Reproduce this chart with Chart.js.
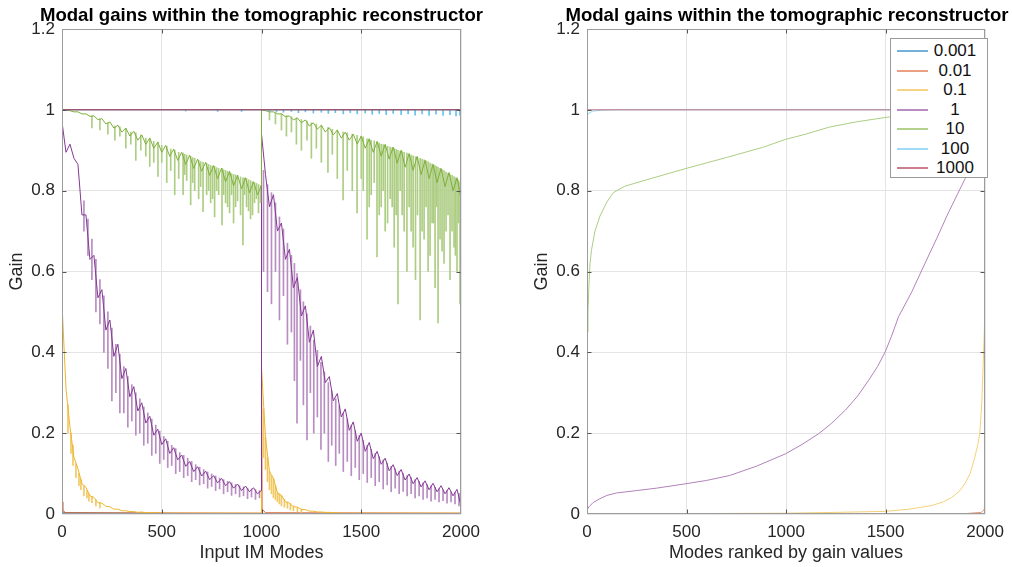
<!DOCTYPE html>
<html>
<head>
<meta charset="utf-8">
<script src="https://cdn.jsdelivr.net/npm/chart.js@4"></script>
<style>
  html, body { margin: 0; padding: 0; background: #fff; }
  #wrap { position: relative; width: 1012px; height: 567px; overflow: hidden;
          font-family: "Liberation Sans", Arial, sans-serif; }
  canvas { position: absolute; top: 0; }
  .title { position: absolute; top: 5px; line-height: 20px; font-size: 18.6px; font-weight: bold;
           color: #000; text-align: center; white-space: nowrap; }
  #legend { position: absolute; left: 890px; top: 38px; width: 96px; height: 138px;
            border: 1px solid #9a9a9a; background: #fff; }
  .row { position: absolute; left: 0; width: 96px; height: 20px; }
  .row .ln { position: absolute; left: 6px; top: 9px; width: 31px; height: 2px; }
  .row .tx { position: absolute; left: 40px; width: 48px; top: 0; line-height: 20px;
             font-size: 17px; color: #111; text-align: center; }
</style>
</head>
<body>
<div id="wrap">
  <canvas id="leftChart" width="506" height="567" style="left:0"></canvas>
  <canvas id="rightChart" width="506" height="567" style="left:506px"></canvas>
  <div class="title" style="left:0;width:523px">Modal gains within the tomographic reconstructor</div>
  <div class="title" style="left:562px;width:450px">Modal gains within the tomographic reconstructor</div>
  <div id="legend"></div>
</div>
<script>
// gain values per regularisation weight
const seriesNames = ["0.001", "0.01", "0.1", "1", "10", "100", "1000"];
const seriesColors = ["#0072BD", "#D95319", "#EDB120", "#7E2F8E", "#77AC30", "#4DBEEE", "#A2142F"];

// left panel : input IM modes (two blocks of 1000 modes)
const leftModes = [
  0, 20, 40, 60, 80, 100, 120, 140, 160, 180,
  200, 220, 240, 260, 280, 300, 320, 340, 360, 380,
  400, 420, 440, 460, 480, 500, 520, 540, 560, 580,
  600, 620, 640, 660, 680, 700, 720, 740, 760, 780,
  800, 820, 840, 860, 880, 900, 920, 940, 960, 980,
  999,
  1000, 1020, 1040, 1060, 1080, 1100, 1120, 1140, 1160, 1180,
  1200, 1220, 1240, 1260, 1280, 1300, 1320, 1340, 1360, 1380,
  1400, 1420, 1440, 1460, 1480, 1500, 1520, 1540, 1560, 1580,
  1600, 1620, 1640, 1660, 1680, 1700, 1720, 1740, 1760, 1780,
  1800, 1820, 1840, 1860, 1880, 1900, 1920, 1940, 1960, 1980,
  2000
];
// main band of each curve
const leftGain10 = [
  1.000, 0.999, 0.998, 0.995, 0.995, 0.990, 0.990, 0.984, 0.985, 0.976,
  0.978, 0.965, 0.970, 0.955, 0.962, 0.945, 0.955, 0.935, 0.947, 0.925,
  0.938, 0.915, 0.930, 0.905, 0.920, 0.895, 0.912, 0.885, 0.903, 0.875,
  0.895, 0.865, 0.888, 0.855, 0.878, 0.848, 0.870, 0.838, 0.862, 0.830,
  0.856, 0.822, 0.848, 0.812, 0.838, 0.805, 0.832, 0.795, 0.822, 0.790,
  0.812,
  1.000, 0.998, 0.995, 0.995, 0.990, 0.990, 0.983, 0.985, 0.975, 0.980,
  0.968, 0.975, 0.960, 0.968, 0.952, 0.962, 0.945, 0.956, 0.938, 0.950,
  0.930, 0.945, 0.925, 0.940, 0.915, 0.935, 0.905, 0.928, 0.895, 0.922,
  0.885, 0.915, 0.878, 0.908, 0.868, 0.900, 0.858, 0.892, 0.850, 0.885,
  0.840, 0.875, 0.830, 0.865, 0.820, 0.855, 0.810, 0.845, 0.800, 0.832,
  0.780
];
const leftGain1 = [
  0.970, 0.895, 0.915, 0.880, 0.865, 0.740, 0.740, 0.630, 0.640, 0.535,
  0.555, 0.455, 0.480, 0.390, 0.420, 0.335, 0.360, 0.290, 0.315, 0.255,
  0.275, 0.225, 0.242, 0.195, 0.210, 0.172, 0.186, 0.150, 0.164, 0.134,
  0.146, 0.118, 0.130, 0.105, 0.117, 0.094, 0.106, 0.085, 0.095, 0.077,
  0.088, 0.070, 0.080, 0.064, 0.074, 0.058, 0.069, 0.055, 0.065, 0.050,
  0.058,
  0.940, 0.840, 0.760, 0.790, 0.700, 0.720, 0.630, 0.655, 0.560, 0.585,
  0.490, 0.515, 0.425, 0.455, 0.365, 0.390, 0.325, 0.340, 0.280, 0.298,
  0.240, 0.260, 0.207, 0.228, 0.180, 0.200, 0.155, 0.177, 0.137, 0.155,
  0.123, 0.138, 0.107, 0.122, 0.095, 0.110, 0.084, 0.099, 0.075, 0.090,
  0.067, 0.082, 0.060, 0.076, 0.055, 0.070, 0.050, 0.065, 0.045, 0.061,
  0.020
];
const leftGain01 = [
  0.520, 0.310, 0.215, 0.140, 0.112, 0.075, 0.066, 0.045, 0.041, 0.028,
  0.027, 0.019, 0.018, 0.012, 0.012, 0.008, 0.008, 0.006, 0.006, 0.004,
  0.005, 0.003, 0.004, 0.003, 0.003, 0.002, 0.002, 0.002, 0.002, 0.002,
  0.002, 0.002, 0.002, 0.002, 0.002, 0.002, 0.002, 0.002, 0.002, 0.002,
  0.002, 0.002, 0.002, 0.002, 0.002, 0.002, 0.002, 0.002, 0.002, 0.002,
  0.002,
  0.360, 0.190, 0.105, 0.088, 0.052, 0.046, 0.030, 0.027, 0.018, 0.017,
  0.011, 0.011, 0.007, 0.007, 0.005, 0.005, 0.004, 0.004, 0.003, 0.003,
  0.002, 0.002, 0.002, 0.002, 0.002, 0.002, 0.002, 0.002, 0.002, 0.002,
  0.002, 0.002, 0.002, 0.002, 0.002, 0.002, 0.002, 0.002, 0.002, 0.002,
  0.002, 0.002, 0.002, 0.002, 0.002, 0.002, 0.002, 0.002, 0.002, 0.002,
  0.002
];

// downward spikes of the weight 10 curve : mode, bottom, top
const spikeModes10 = [
  150, 190, 230, 265, 290, 320, 345, 370, 395, 420,
  440, 460, 481, 500, 525, 545, 565, 585, 607, 625,
  645, 665, 685, 707, 725, 745, 765, 785, 802, 820,
  840, 860, 880, 907, 925, 945, 965, 985,
  615, 655, 695, 735, 755, 775, 810, 830, 850, 870,
  895, 915, 935, 955, 975, 995,
  1040, 1070, 1100, 1125, 1150, 1175, 1200, 1228, 1250, 1275,
  1300, 1333, 1355, 1380, 1409, 1430, 1455, 1479, 1500, 1529,
  1550, 1579, 1600, 1620, 1645, 1665, 1684, 1705, 1729, 1750,
  1772, 1795, 1815, 1835, 1855, 1870, 1885, 1905, 1925, 1945,
  1965, 1980, 1995,
  1510, 1540, 1565, 1590, 1610, 1632, 1655, 1675, 1695, 1715,
  1740, 1760, 1782, 1805, 1825, 1845, 1862, 1878, 1895, 1915,
  1935, 1955, 1972, 1988
];
const spikeLow10 = [
  0.955, 0.950, 0.940, 0.925, 0.935, 0.905, 0.915, 0.875, 0.900, 0.885,
  0.860, 0.870, 0.835, 0.870, 0.820, 0.850, 0.790, 0.830, 0.790, 0.825,
  0.765, 0.800, 0.780, 0.748, 0.790, 0.770, 0.735, 0.790, 0.715, 0.770,
  0.745, 0.720, 0.775, 0.666, 0.760, 0.730, 0.770, 0.745,
  0.840, 0.820, 0.810, 0.800, 0.780, 0.800, 0.790, 0.760, 0.790, 0.760,
  0.740, 0.790, 0.750, 0.740, 0.780, 0.770,
  0.975, 0.965, 0.950, 0.935, 0.945, 0.915, 0.900, 0.925, 0.880, 0.905,
  0.870, 0.845, 0.890, 0.830, 0.777, 0.850, 0.800, 0.745, 0.830, 0.680,
  0.790, 0.636, 0.760, 0.700, 0.780, 0.660, 0.520, 0.740, 0.600, 0.700,
  0.580, 0.480, 0.680, 0.600, 0.720, 0.560, 0.473, 0.650, 0.700, 0.580,
  0.660, 0.600, 0.520,
  0.800, 0.760, 0.820, 0.740, 0.800, 0.720, 0.760, 0.740, 0.800, 0.700,
  0.760, 0.660, 0.740, 0.700, 0.760, 0.640, 0.720, 0.760, 0.680, 0.620,
  0.740, 0.700, 0.640, 0.720
];
const spikeTop10 = [
  0.985, 0.977, 0.968, 0.960, 0.958, 0.953, 0.945, 0.943, 0.938, 0.930,
  0.930, 0.922, 0.920, 0.912, 0.910, 0.903, 0.900, 0.895, 0.893, 0.888,
  0.885, 0.880, 0.875, 0.870, 0.868, 0.862, 0.860, 0.855, 0.855, 0.850,
  0.845, 0.840, 0.838, 0.832, 0.830, 0.825, 0.820, 0.815,
  0.890, 0.882, 0.872, 0.865, 0.861, 0.857, 0.852, 0.848, 0.842, 0.839,
  0.834, 0.831, 0.827, 0.822, 0.818, 0.813,
  0.995, 0.992, 0.990, 0.986, 0.983, 0.980, 0.976, 0.972, 0.968, 0.965,
  0.962, 0.956, 0.952, 0.950, 0.945, 0.943, 0.940, 0.937, 0.935, 0.928,
  0.925, 0.920, 0.915, 0.912, 0.908, 0.904, 0.900, 0.897, 0.893, 0.888,
  0.884, 0.880, 0.876, 0.872, 0.866, 0.862, 0.858, 0.852, 0.846, 0.840,
  0.835, 0.830, 0.820,
  0.933, 0.928, 0.923, 0.918, 0.914, 0.910, 0.906, 0.902, 0.898, 0.895,
  0.890, 0.886, 0.882, 0.878, 0.874, 0.868, 0.864, 0.860, 0.855, 0.850,
  0.843, 0.838, 0.832, 0.826
];
// downward spikes of the weight 1 curve
const spikeModes1 = [
  110, 130, 150, 170, 190, 210, 230, 250, 270, 290,
  310, 330, 350, 370, 390, 410, 430, 450, 470, 490,
  510, 530, 550, 570, 590, 610, 630, 650, 670, 690,
  710, 730, 750, 770, 790, 810, 830, 850, 870, 890,
  910, 930, 950, 970, 990,
  1010, 1030, 1050, 1070, 1090, 1110, 1130, 1150, 1165, 1178,
  1195, 1210, 1228, 1245, 1262, 1280, 1298, 1315, 1335, 1352,
  1372, 1390, 1410, 1430, 1450, 1470, 1490, 1510, 1530, 1550,
  1570, 1590, 1610, 1630, 1650, 1670, 1690, 1710, 1730, 1750,
  1770, 1790, 1810, 1830, 1850, 1870, 1890, 1910, 1930, 1950,
  1970, 1990
];
const spikeLow1 = [
  0.700, 0.640, 0.580, 0.500, 0.470, 0.400, 0.360, 0.280, 0.300, 0.250,
  0.250, 0.215, 0.230, 0.195, 0.200, 0.170, 0.175, 0.145, 0.150, 0.125,
  0.135, 0.115, 0.120, 0.100, 0.105, 0.090, 0.095, 0.080, 0.085, 0.072,
  0.075, 0.064, 0.068, 0.058, 0.062, 0.050, 0.055, 0.046, 0.050, 0.042,
  0.045, 0.038, 0.042, 0.036, 0.040,
  0.600, 0.550, 0.520, 0.600, 0.480, 0.540, 0.420, 0.450, 0.330, 0.225,
  0.380, 0.270, 0.183, 0.300, 0.200, 0.240, 0.160, 0.200, 0.130, 0.170,
  0.120, 0.150, 0.105, 0.130, 0.095, 0.115, 0.085, 0.100, 0.078, 0.090,
  0.070, 0.080, 0.062, 0.072, 0.055, 0.064, 0.050, 0.056, 0.045, 0.050,
  0.040, 0.045, 0.036, 0.040, 0.032, 0.036, 0.030, 0.033, 0.027, 0.030,
  0.025, 0.020
];
const spikeTop1 = [
  0.775, 0.730, 0.680, 0.630, 0.580, 0.540, 0.500, 0.460, 0.420, 0.395,
  0.365, 0.340, 0.320, 0.300, 0.285, 0.265, 0.250, 0.235, 0.220, 0.205,
  0.192, 0.180, 0.170, 0.162, 0.152, 0.145, 0.138, 0.130, 0.122, 0.116,
  0.110, 0.104, 0.099, 0.094, 0.089, 0.085, 0.081, 0.077, 0.073, 0.070,
  0.067, 0.064, 0.062, 0.060, 0.058,
  0.850, 0.815, 0.795, 0.770, 0.735, 0.705, 0.670, 0.640, 0.620, 0.595,
  0.555, 0.525, 0.495, 0.465, 0.430, 0.405, 0.375, 0.352, 0.325, 0.305,
  0.285, 0.268, 0.250, 0.235, 0.220, 0.206, 0.195, 0.182, 0.170, 0.160,
  0.150, 0.142, 0.134, 0.126, 0.118, 0.112, 0.106, 0.100, 0.095, 0.090,
  0.085, 0.081, 0.077, 0.073, 0.070, 0.066, 0.063, 0.060, 0.058, 0.055,
  0.053, 0.051
];
// ripples of the weight 0.1 curve
const spikeModes01 = [30, 45, 55, 70, 85, 95, 110, 125, 135, 150, 170, 190,
  1010, 1020, 1030, 1040, 1050, 1060, 1070, 1080, 1090, 1100, 1115, 1130, 1145, 1160, 1180, 1200];
const spikeLow01 = [0.20, 0.15, 0.12, 0.09, 0.07, 0.06, 0.045, 0.04, 0.032, 0.028, 0.02, 0.015,
  0.14, 0.11, 0.08, 0.06, 0.05, 0.04, 0.035, 0.03, 0.025, 0.02, 0.017, 0.014, 0.01, 0.008, 0.006, 0.004];
const spikeTop01 = [0.27, 0.20, 0.17, 0.125, 0.10, 0.085, 0.07, 0.058, 0.05, 0.043, 0.035, 0.028,
  0.26, 0.19, 0.14, 0.105, 0.095, 0.088, 0.07, 0.052, 0.05, 0.046, 0.036, 0.03, 0.026, 0.02, 0.016, 0.012];
// small dips of the weight 100 curve
const spikeModes100 = [620, 780, 900,
  1040, 1075, 1110, 1150, 1185, 1220, 1260, 1300, 1335, 1370,
  1410, 1445, 1480, 1520, 1555, 1590, 1625, 1660, 1700, 1735,
  1770, 1805, 1840, 1875, 1910, 1945, 1975, 1995];
const spikeLow100 = [0.997, 0.996, 0.996,
  0.996, 0.995, 0.994, 0.996, 0.993, 0.995, 0.992, 0.994, 0.991, 0.993,
  0.990, 0.993, 0.990, 0.992, 0.989, 0.991, 0.988, 0.991, 0.988, 0.990,
  0.987, 0.990, 0.986, 0.989, 0.986, 0.988, 0.985, 0.987];
const spikeTop100 = [1, 1, 1,
  1, 1, 1, 1, 1, 1, 1, 1, 1, 1,
  1, 1, 1, 1, 1, 1, 1, 1, 1, 1,
  1, 1, 1, 1, 1, 1, 1, 1];

const leftModes0001 = [0, 999, 1000, 1003, 2000];
const leftGain0001 = [0.003, 0.0, 0.012, 0.0, 0.0];
const leftModes001 = [0, 4, 20, 999, 1000, 1003, 1020, 2000];
const leftGain001 = [0.03, 0.008, 0.003, 0.002, 0.39, 0.012, 0.003, 0.002];
const leftModes100 = [0, 2000];
const leftGain100 = [1, 1];
const leftModes1000 = [0, 2000];
const leftGain1000 = [1, 1];

// right panel : modes ranked by gain value
const rankModes0001 = [0, 1990, 2000];
const rankGain0001 = [0, 0.001, 0.004];
const rankModes001 = [0, 1900, 1980, 1995, 2000];
const rankGain001 = [0.001, 0.001, 0.004, 0.01, 0.03];
const rankModes01 = [0, 500, 1000, 1250, 1498, 1620, 1732, 1790, 1832, 1870,
  1898, 1925, 1948, 1965, 1973, 1983, 1990, 1996, 2000];
const rankGain01 = [0.0, 0.001, 0.002, 0.004, 0.0065, 0.012, 0.021, 0.03, 0.041, 0.056,
  0.075, 0.1, 0.14, 0.175, 0.199, 0.27, 0.364, 0.45, 0.53];
const rankModes1 = [0, 10, 30, 65, 100, 148, 250, 350, 498, 600,
  715, 850, 998, 1080, 1165, 1230, 1298, 1360, 1415, 1460,
  1498, 1530, 1565, 1632, 1698, 1760, 1815, 1860, 1898, 1935,
  1965, 1990, 1998, 2000];
const rankGain1 = [0.01, 0.018, 0.028, 0.038, 0.046, 0.052, 0.058, 0.064, 0.075, 0.083,
  0.095, 0.118, 0.149, 0.172, 0.199, 0.225, 0.257, 0.292, 0.331, 0.365,
  0.401, 0.44, 0.488, 0.55, 0.62, 0.685, 0.745, 0.79, 0.828, 0.865,
  0.894, 0.919, 0.935, 0.965];
const rankModes10 = [0, 5, 10, 15, 23, 40, 65, 100, 132, 190,
  300, 498, 700, 882, 998, 1100, 1215, 1350, 1498, 1650, 1800, 2000];
const rankGain10 = [0.45, 0.5, 0.57, 0.62, 0.654, 0.70, 0.737, 0.772, 0.795, 0.811,
  0.827, 0.855, 0.882, 0.907, 0.927, 0.94, 0.957, 0.97, 0.981, 0.99, 0.996, 1.0];
const rankModes100 = [0, 10, 30, 80, 150, 2000];
const rankGain100 = [0.985, 0.992, 0.997, 0.999, 1, 1];
const rankModes1000 = [0, 2000];
const rankGain1000 = [1, 1];

const xTicks = [0, 500, 1000, 1500, 2000];
const yTicks = [0, 0.2, 0.4, 0.6, 0.8, 1, 1.2];

Chart.defaults.font.family = '"Liberation Sans", Arial, sans-serif';

function pts(xs, ys) {
  return xs.map((x, i) => ({ x: x, y: ys[i] }));
}

// colour mixed with white, kept opaque so overlapping lines don't darken
function tint(hex, a) {
  const n = parseInt(hex.slice(1), 16);
  const mix = c => Math.round(c * a + 255 * (1 - a));
  return "rgb(" + mix(n >> 16) + "," + mix((n >> 8) & 255) + "," + mix(n & 255) + ")";
}

// frame round the axes with small inward ticks, like matlab's box on
const framePlugin = {
  id: "frame",
  afterDatasetsDraw(chart) {
    const { ctx, chartArea: a, scales } = chart;
    const L = Math.round(a.left) + 0.5, R = Math.round(a.right) - 0.5;
    const T = Math.round(a.top) + 0.5, B = Math.round(a.bottom) - 0.5;
    ctx.save();
    ctx.strokeStyle = "#9c9c9c";
    ctx.lineWidth = 1;
    ctx.strokeRect(L, T, R - L, B - T);
    ctx.strokeStyle = "#555";
    ctx.beginPath();
    xTicks.slice(1, -1).forEach(v => {
      const px = Math.round(scales.x.getPixelForValue(v)) + 0.5;
      ctx.moveTo(px, B); ctx.lineTo(px, B - 4);
      ctx.moveTo(px, T); ctx.lineTo(px, T + 4);
    });
    yTicks.slice(1, -1).forEach(v => {
      const py = Math.round(scales.y.getPixelForValue(v)) + 0.5;
      ctx.moveTo(L, py); ctx.lineTo(L + 4, py);
      ctx.moveTo(R, py); ctx.lineTo(R - 4, py);
    });
    ctx.stroke();
    ctx.restore();
  }
};

function makeOptions(xTitle, padLeft, padRight) {
  return {
    responsive: false,
    animation: false,
    events: [],
    layout: { padding: { top: 29, right: padRight, bottom: 0, left: padLeft } },
    plugins: { legend: { display: false }, tooltip: { enabled: false } },
    elements: { point: { radius: 0 }, line: { borderWidth: 1, tension: 0 } },
    scales: {
      x: {
        type: "linear", min: 0, max: 2000, offset: false,
        afterFit: s => { s.height = 53; },
        afterBuildTicks: s => { s.ticks = xTicks.map(v => ({ value: v })); },
        ticks: { color: "#262626", font: { size: 17 }, padding: 8, maxRotation: 0, autoSkip: false,
                 callback: v => String(v) },
        grid: { color: "#e4e4e4", drawTicks: false, offset: false },
        border: { display: false },
        title: { display: true, text: xTitle, color: "#262626", font: { size: 18 }, padding: { top: 0, bottom: 3 } }
      },
      y: {
        type: "linear", min: 0, max: 1.2,
        afterFit: s => { s.width = 62; },
        afterBuildTicks: s => { s.ticks = yTicks.map(v => ({ value: v })); },
        ticks: { color: "#262626", font: { size: 17 }, padding: 7,
                 callback: v => String(Math.round(v * 10) / 10) },
        grid: { color: "#e4e4e4", drawTicks: false },
        border: { display: false },
        title: { display: true, text: "Gain", color: "#262626", font: { size: 18 }, padding: { top: 6, bottom: 0 } }
      }
    }
  };
}

function makeSets(pairs, alpha) {
  return pairs.map((p, i) => ({
    type: "line",
    label: seriesNames[i],
    data: pts(p[0], p[1]),
    borderColor: tint(seriesColors[i], alpha),
    borderWidth: 1,
    pointRadius: 0,
    order: 6 - i
  }));
}

// spikes drawn as one-pixel floating bars in the colour of their series
function spikeSet(i, modes, lows, tops, alpha) {
  return {
    type: "bar",
    label: seriesNames[i] + " spikes",
    data: modes.map((m, k) => ({ x: m, y: [lows[k], tops[k]] })),
    backgroundColor: tint(seriesColors[i], alpha),
    borderWidth: 0,
    barThickness: 1,
    grouped: false,
    order: 6 - i + 0.5
  };
}

const leftSets = makeSets([
  [leftModes0001, leftGain0001],
  [leftModes001, leftGain001],
  [leftModes, leftGain01],
  [leftModes, leftGain1],
  [leftModes, leftGain10],
  [leftModes100, leftGain100],
  [leftModes1000, leftGain1000]
], 0.95);
leftSets.push(spikeSet(2, spikeModes01, spikeLow01, spikeTop01, 0.7));
leftSets.push(spikeSet(3, spikeModes1, spikeLow1, spikeTop1, 0.55));
leftSets.push(spikeSet(4, spikeModes10, spikeLow10, spikeTop10, 0.6));
leftSets.push(spikeSet(5, spikeModes100, spikeLow100, spikeTop100, 0.9));

new Chart(document.getElementById("leftChart"), {
  type: "line",
  data: { datasets: leftSets },
  options: makeOptions("Input IM Modes", 0, 45),
  plugins: [framePlugin]
});

new Chart(document.getElementById("rightChart"), {
  type: "line",
  data: {
    datasets: makeSets([
      [rankModes0001, rankGain0001],
      [rankModes001, rankGain001],
      [rankModes01, rankGain01],
      [rankModes1, rankGain1],
      [rankModes10, rankGain10],
      [rankModes100, rankGain100],
      [rankModes1000, rankGain1000]
    ], 0.6)
  },
  options: makeOptions("Modes ranked by gain values", 19, 25),
  plugins: [framePlugin]
});

// legend box inside the right axes
const legend = document.getElementById("legend");
seriesNames.forEach((name, i) => {
  const row = document.createElement("div");
  row.className = "row";
  row.style.top = Math.round(2 + i * 19.5) + "px";
  row.innerHTML = '<div class="ln" style="background:' + tint(seriesColors[i], 0.55) + '"></div>' +
                  '<div class="tx">' + name + '</div>';
  legend.appendChild(row);
});
</script>
</body>
</html>
